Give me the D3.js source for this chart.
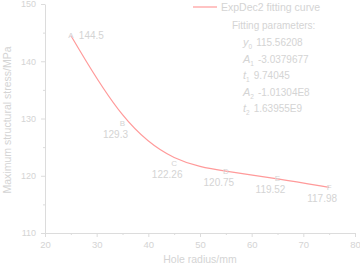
<!DOCTYPE html>
<html>
<head>
<meta charset="utf-8">
<script src="https://cdn.jsdelivr.net/npm/d3@7"></script>
<style>
  body { margin: 0; background: #fff; }
  text { font-family: "Liberation Sans", Arial, sans-serif; fill: #d4d4d4; }
  .axis path, .axis line { stroke: #dcdcdc; }
</style>
</head>
<body>
<div id="chart"></div>
<script>
// hole radius (mm) and maximum structural stress (MPa)
const radius = [25, 35, 45, 55, 65, 75];
const stress = [144.5, 129.3, 122.26, 120.75, 119.52, 117.98];
const pointNames = ["A", "B", "C", "D", "E", "F"];
const xTicks = [20, 30, 40, 50, 60, 70, 80];
const yTicks = [110, 120, 130, 140, 150];
const fitParams = [
    ["y", "0", "115.56208"],
    ["A", "1", "-3.0379677"],
    ["t", "1", "9.74045"],
    ["A", "2", "-1.01304E8"],
    ["t", "2", "1.63955E9"]
];

const W = 360, H = 267;
const margin = {top: 4, right: 5, bottom: 34, left: 45};
const width = W - margin.left - margin.right;
const height = H - margin.top - margin.bottom;

const svg = d3.select('#chart').append('svg')
    .attr('width', W)
    .attr('height', H);
const chart = svg.append('g')
    .attr('transform', `translate(${margin.left},${margin.top})`);

const x = d3.scaleLinear().domain([20, 80]).range([0, width]);
const y = d3.scaleLinear().domain([110, 150]).range([height, 0]);

// minor ticks first, then major ones on top
chart.append('g')
    .attr('class', 'axis')
    .attr('transform', `translate(0,${height})`)
    .call(d3.axisBottom(x).tickValues(d3.range(25, 80, 10)).tickSize(2).tickFormat(''))
    .call(g => g.select('.domain').remove());
chart.append('g')
    .attr('class', 'axis')
    .call(d3.axisLeft(y).tickValues(d3.range(115, 150, 10)).tickSize(2).tickFormat(''))
    .call(g => g.select('.domain').remove());

chart.append('g')
    .attr('class', 'axis')
    .attr('transform', `translate(0,${height})`)
    .call(d3.axisBottom(x).tickValues(xTicks).tickSize(4).tickSizeOuter(0).tickPadding(4))
    .call(g => g.selectAll('text').attr('font-size', 9.5).style('fill', '#d4d4d4'));
chart.append('g')
    .attr('class', 'axis')
    .call(d3.axisLeft(y).tickValues(yTicks).tickSize(4).tickSizeOuter(0).tickPadding(5))
    .call(g => g.selectAll('text').attr('font-size', 9).style('fill', '#d4d4d4'));

// fitted curve
const pts = radius.map((r, i) => [r, stress[i]]);
chart.append('path')
    .datum(pts)
    .attr('fill', 'none')
    .attr('stroke', '#ff9a9a')
    .attr('stroke-width', 1.2)
    .attr('d', d3.line().x(d => x(d[0])).y(d => y(d[1])).curve(d3.curveBasis));

// point names and values
pts.forEach((p, i) => {
    const px = x(p[0]), py = y(p[1]);
    chart.append('text')
        .attr('x', px)
        .attr('y', py + 3)
        .attr('text-anchor', 'middle')
        .attr('font-size', 8)
        .text(pointNames[i]);
    if (i === 0) {
        chart.append('text')
            .attr('x', px + 8)
            .attr('y', py + 3.5)
            .attr('font-size', 10)
            .text(stress[i]);
    } else {
        chart.append('text')
            .attr('x', px - 7)
            .attr('y', py + 15)
            .attr('text-anchor', 'middle')
            .attr('font-size', 10)
            .text(stress[i]);
    }
});

// legend
svg.append('line')
    .attr('x1', 193).attr('x2', 217)
    .attr('y1', 7).attr('y2', 7)
    .attr('stroke', '#ff9a9a')
    .attr('stroke-width', 1.2);
svg.append('text')
    .attr('x', 221).attr('y', 11)
    .attr('font-size', 10.5)
    .text('ExpDec2 fitting curve');

svg.append('text')
    .attr('x', 232).attr('y', 29)
    .attr('font-size', 10)
    .text('Fitting parameters:');
fitParams.forEach((d, i) => {
    const t = svg.append('text')
        .attr('x', 243).attr('y', 46 + i * 16.5)
        .attr('font-size', 10);
    t.append('tspan').attr('font-style', 'italic').attr('font-size', 11).text(d[0]);
    t.append('tspan').attr('font-size', 6.5).attr('dy', 3).text(d[1]);
    t.append('tspan').attr('dy', -3).attr('dx', 4).text(d[2]);
});

// axis titles
svg.append('text')
    .attr('x', 200)
    .attr('y', 263)
    .attr('text-anchor', 'middle')
    .attr('font-size', 10.5)
    .text('Hole radius/mm');
svg.append('text')
    .attr('transform', 'translate(11,120) rotate(-90)')
    .attr('text-anchor', 'middle')
    .attr('font-size', 10.5)
    .text('Maximum structural stress/MPa');
</script>
</body>
</html>
